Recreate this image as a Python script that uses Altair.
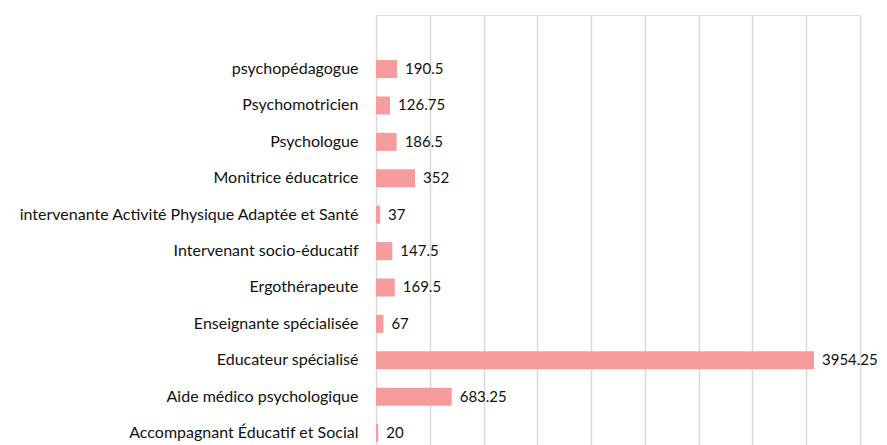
import altair as alt
import pandas as pd

categories = [
    "psychopédagogue",
    "Psychomotricien",
    "Psychologue",
    "Monitrice éducatrice",
    "intervenante Activité Physique Adaptée et Santé ",
    "Intervenant socio-éducatif",
    "Ergothérapeute",
    "Enseignante spécialisée",
    "Educateur spécialisé",
    "Aide médico psychologique",
    "Accompagnant Éducatif et Social",
]
values = [190.5, 126.75, 186.5, 352, 37, 147.5, 169.5, 67, 3954.25, 683.25, 20]
labels = ["190.5", "126.75", "186.5", "352", "37", "147.5", "169.5", "67", "3954.25", "683.25", "20"]
grid_ticks = [0, 485.5, 971, 1456.5, 1942, 2427.5, 2913, 3398.5, 3884, 4369.5]

df = pd.DataFrame({"cat": categories, "val": values, "lab": labels})

FONT = "Lato"

y = alt.Y(
    "cat:N",
    sort=categories,
    title=None,
    scale=alt.Scale(paddingInner=0.505, paddingOuter=0.658, align=0.94),
    axis=alt.Axis(
        ticks=False, domain=False, labelPadding=18, labelFontSize=16,
        labelFont=FONT, labelColor="#111111", labelLimit=400, grid=False,
    ),
)
x = alt.X(
    "val:Q",
    title=None,
    scale=alt.Scale(domain=[0, 4369.5], nice=False, zero=True),
    axis=alt.Axis(
        values=grid_ticks, labels=False, ticks=False, domain=False,
        grid=True, gridColor="#d9d9d9", gridWidth=1.5,
    ),
)

bars = alt.Chart(df).mark_bar(color="#F79C9C").encode(x=x, y=y)
text = alt.Chart(df).mark_text(
    align="left", baseline="middle", dx=8, fontSize=15, font=FONT, color="#111111"
).encode(x="val:Q", y=alt.Y("cat:N", sort=categories), text="lab:N")

chart = (
    (bars + text)
    .properties(
        width=484, height=430,
        autosize=alt.AutoSizeParams(type="none"),
        padding={"left": 368, "top": 7, "right": 19, "bottom": 0},
    )
    .configure_view(stroke=None)
    .configure(background="white")
)

chart.save("out.html", embed_options={"renderer": "svg", "actions": False})
